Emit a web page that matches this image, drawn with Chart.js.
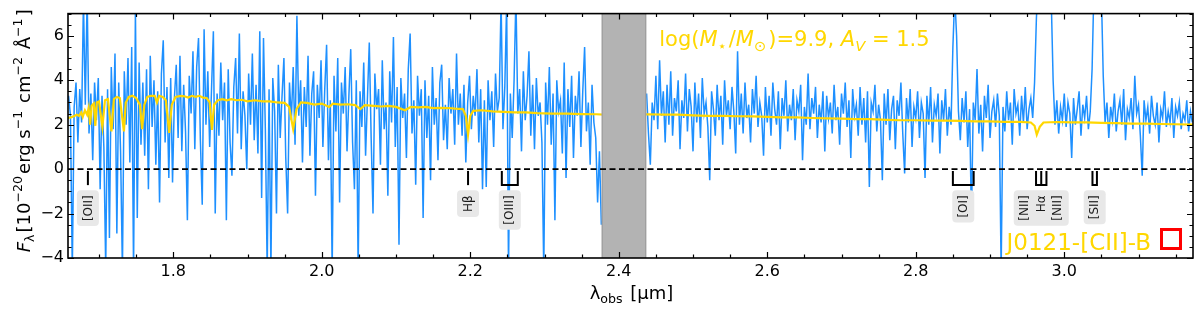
<!DOCTYPE html>
<html><head><meta charset="utf-8">
<script src="https://cdn.jsdelivr.net/npm/chart.js@4/dist/chart.umd.min.js"></script>
<style>html,body{margin:0;padding:0;background:#fff}#wrap{width:1200px;height:313px;position:relative}</style>
</head><body><div id="wrap"><canvas id="c" width="1200" height="313"></canvas></div>
<script>
// ---------------- data ----------------
const specStartA = 1.659;   // µm, first pixel of blue segment left of the masked band
const specStartB = 2.4375;  // µm, first pixel right of the masked band
const specStep = 0.0025;    // µm per spectral pixel
const specFluxA = [
3.3,2.4,-4.6,2.8,3.9,1.2,3.6,2.1,7.6,2.9,7.8,1.6,3.4,0.4,3.9,2.2,
4.1,-0.9,3.3,1.0,-4.5,3.6,-3.1,4.6,1.8,5.2,-2.9,3.9,0.8,-4.6,4.4,2.0,5.0,0.3,5.5,-4.6,7.2,-2.2,4.8,1.1,
3.9,0.6,4.5,-0.9,5.1,1.9,4.0,0.2,3.5,-1.5,4.3,5.8,1.2,3.7,-0.4,4.1,-0.6,3.2,4.7,1.4,
5.1,0.8,3.8,1.7,-2.3,4.2,2.5,5.3,0.9,4.6,5.9,1.3,-1.6,6.3,2.0,4.4,1.0,3.6,6.2,-2.0,
3.4,1.5,4.8,2.2,3.9,-2.3,4.5,1.2,-0.3,3.7,5.0,1.6,6.1,0.9,3.5,2.4,0.0,4.3,2.0,5.2,
1.3,3.8,0.7,6.2,-1.3,5.9,1.8,-4.6,3.6,-4.6,4.1,2.6,-2.0,4.7,1.4,3.3,5.0,0.5,-2.0,3.9,
2.2,4.6,1.1,6.9,2.4,4.0,0.3,3.7,1.9,5.1,0.6,3.4,4.4,-1.2,3.8,2.3,
4.9,1.0,3.6,5.6,0.4,3.1,-4.6,4.2,1.7,5.0,-1.5,3.9,2.5,4.6,0.8,3.3,5.4,1.2,-0.9,4.0,
-4.6,3.5,1.9,4.8,0.6,3.2,5.7,1.4,-2.0,4.3,2.7,3.6,0.2,4.9,1.8,3.0,-1.2,4.4,2.1,5.95,
1.0,3.7,-3.4,4.1,2.3,3.4,0.5,4.5,6.1,1.6,3.1,-0.7,4.2,2.4,3.6,-2.2,4.0,1.4,3.3,-0.5,
4.6,2.0,3.2,0.4,3.9,4.7,1.3,2.9,0.9,4.1,2.5,3.6,1.1,5.2,2.0,3.4,1.5,3.8,0.3,3.0,
4.2,1.8,3.3,2.4,4.5,1.2,3.6,-0.9,3.1,-0.8,4.0,2.2,3.5,1.0,4.3,2.6,3.2,7.6,1.8,3.7,
7.5,-4.6,3.4,1.4,4.0,7.8,2.5,3.6,0.8,4.4,2.2,3.3,5.3,1.5,3.8,0.9,4.1,2.4,3.0,1.2,
-4.6,3.9,2.0,4.6,1.1,3.4,-2.3,4.0,2.6,3.1,0.7,4.8,-0.4,3.6,1.9,4.2,0.5,3.3,2.4,4.4,
1.0,3.5,5.5,1.7,3.0,0.2,3.8,2.1,1.4,-1.5,0.8,-2.5
];
const specFluxB = [
3.4,1.6,0.2,3.0,2.2,4.2,1.8,4.9,2.4,3.5,1.2,3.8,2.0,4.4,1.5,3.2,2.6,4.0,0.9,3.1,
2.3,4.3,1.7,3.6,2.8,0.8,3.9,2.1,3.4,1.4,4.1,2.5,3.0,1.9,-0.5,3.5,2.7,1.5,3.8,2.2,
3.3,1.1,4.0,2.4,3.1,1.8,3.7,2.6,0.7,5.3,2.0,3.4,1.6,3.9,2.3,2.9,1.2,3.6,2.5,4.2,
1.9,3.0,2.4,0.6,3.7,2.1,3.3,1.5,3.9,2.7,2.0,3.5,0.9,3.2,2.4,4.0,1.7,2.9,2.2,3.6,
1.3,3.1,2.6,3.8,0.4,2.8,2.0,4.3,1.8,3.2,2.5,3.7,1.4,2.9,2.1,3.5,0.8,3.3,2.3,3.0,
1.6,3.8,2.2,2.8,1.1,3.4,2.5,3.9,1.9,3.1,0.5,3.6,2.4,2.9,1.5,3.7,2.0,3.2,1.2,3.5,
-0.8,3.0,2.6,3.8,1.7,2.9,2.2,-0.5,3.4,2.0,3.6,1.3,2.7,3.3,0.9,3.1,2.4,3.9,1.6,-0.2,
3.2,2.1,3.6,1.0,2.8,2.3,3.5,1.4,3.0,2.5,-0.4,3.3,2.0,3.7,1.2,2.9,2.4,3.4,0.7,3.1,
2.2,3.6,1.5,2.8,2.0,5.5,7.8,6.0,2.6,1.3,3.2,2.1,3.5,1.0,2.7,-2.3,3.0,2.2,4.5,1.6,
2.9,0.8,3.3,2.3,3.8,1.4,2.6,3.1,1.9,3.4,2.4,-4.6,2.8,1.7,3.5,2.2,3.0,1.1,3.6,2.5,
2.9,1.5,3.3,2.1,3.7,1.8,2.7,3.2,2.3,3.9,6.8,8.5,9.0,8.8,9.2,8.6,8.0,8.4,7.6,4.0,
2.0,3.1,1.6,2.8,2.2,3.4,1.9,3.0,2.5,0.5,3.2,2.0,2.7,3.5,1.5,2.9,2.3,3.3,1.8,2.6,
4.5,8.2,8.8,8.4,8.7,7.9,4.2,2.1,3.0,1.4,2.8,2.2,3.4,1.7,2.6,3.1,2.0,3.6,1.3,2.7,
2.3,3.2,1.8,4.2,2.5,2.9,1.5,-0.3,3.1,2.2,2.8,1.6,3.3,2.4,2.0,3.0,1.2,2.7,2.3,3.5,
1.9,2.6,2.1,3.2,1.4,2.8,2.4,3.0,1.8,2.5,2.2,3.1,1.7,2.6,2.1
];
const modelWave = [
1.658,1.662,1.666,1.670,1.673,1.676,1.678,1.681,1.684,1.686,1.688,1.690,1.693,1.695,1.697,1.700,
1.7045,1.708,1.712,1.7167,1.720,1.724,1.728,1.7335,1.736,1.740,1.745,1.750,1.755,1.758,1.761,1.765,
1.770,1.775,1.778,1.781,1.786,1.790,1.7945,1.798,1.803,1.810,1.815,1.820,1.825,1.830,1.835,1.840,
1.845,1.849,1.852,1.855,1.860,1.866,1.872,1.878,1.885,1.892,1.900,1.910,1.920,1.930,1.940,1.950,
1.956,1.9615,1.966,1.972,1.980,1.990,2.000,2.010,2.015,2.025,2.035,2.045,2.052,2.058,2.070,2.080,
2.090,2.100,2.112,2.120,2.130,2.140,2.150,2.160,2.170,2.180,2.190,2.194,2.197,2.200,2.204,2.215,
2.230,2.245,2.260,2.275,2.290,2.310,2.330,2.350,2.370,2.380,2.440,2.460,2.480,2.500,2.520,2.540,
2.560,2.580,2.600,2.620,2.640,2.660,2.680,2.700,2.720,2.740,2.760,2.780,2.800,2.820,2.840,2.860,
2.880,2.900,2.920,2.940,2.955,2.960,2.963,2.967,2.972,2.990,3.010,3.030,3.050,3.070,3.090,3.110,
3.130,3.150,3.174
];
const modelFlux = [
2.30,2.33,2.38,2.45,2.40,2.55,2.35,2.65,2.45,2.75,2.00,2.85,2.95,1.95,3.00,3.05,
1.90,3.10,3.15,1.70,3.15,3.25,3.20,1.70,3.00,3.25,3.30,3.20,2.90,1.80,2.90,3.25,
3.30,3.30,3.00,3.30,3.25,3.10,1.63,2.90,3.25,3.30,3.28,3.22,3.30,3.25,3.30,3.22,
3.20,3.00,1.76,2.90,3.10,3.15,3.10,3.15,3.10,3.12,3.05,3.10,3.05,3.05,3.00,2.98,
2.80,1.80,2.70,3.00,2.98,2.90,2.95,2.80,2.95,2.90,2.92,2.88,2.70,2.88,2.85,2.82,
2.85,2.80,2.65,2.80,2.78,2.80,2.75,2.76,2.75,2.72,2.70,2.40,1.55,2.40,2.62,2.65,
2.60,2.58,2.55,2.55,2.52,2.50,2.50,2.48,2.47,2.45,2.47,2.45,2.45,2.42,2.40,2.40,
2.38,2.37,2.35,2.33,2.33,2.30,2.28,2.27,2.25,2.25,2.22,2.20,2.20,2.18,2.18,2.17,
2.15,2.15,2.13,2.13,2.10,1.95,1.55,1.90,2.10,2.12,2.10,2.10,2.08,2.07,2.05,2.05,
2.03,2.02,2.00
];
const xTickValues = [1.8, 2.0, 2.2, 2.4, 2.6, 2.8, 3.0];
const yTickValues = [-4, -2, 0, 2, 4, 6];
const maskedBand = [2.377, 2.437];
const markerWaves = [[1.685], [2.197], [2.2425, 2.264], [2.850, 2.878], [2.962, 2.969, 2.976], [3.038, 3.044]];
const markerLabels = [['[OII]'], ['Hβ'], ['[OIII]'], ['[OI]'], ['[NII]', 'Hα', '[NII]'], ['[SII]']];
const modelText = [
  {t:'log(', s:'n'}, {t:'M', s:'i'}, {t:'⋆', s:'sub'}, {t:'/', s:'n'}, {t:'M', s:'i'}, {t:'⊙', s:'sub'},
  {t:')=9.9, ', s:'n'}, {t:'A', s:'i'}, {t:'V', s:'isub'}, {t:' = 1.5', s:'n'}
];
const objectName = 'J0121-[CII]-B';
const yTitle = [
  {t:'F', s:'i'}, {t:'λ', s:'sub'}, {t:'[10', s:'n'}, {t:'−20', s:'sup'}, {t:'erg s', s:'n'}, {t:'−1', s:'sup'},
  {t:' cm', s:'n'}, {t:'−2', s:'sup'}, {t:' Å', s:'n'}, {t:'−1', s:'sup'}, {t:']', s:'n'}
];
const xTitle = [{t:'λ', s:'n'}, {t:'obs', s:'sub'}, {t:' [µm]', s:'n'}];

// ---------------- build ----------------
const FONT = "'DejaVu Sans', sans-serif";
const ptsA = specFluxA.map((v, i) => ({x: specStartA + i * specStep, y: v}));
const ptsB = specFluxB.map((v, i) => ({x: specStartB + i * specStep, y: v}));
const ptsM = modelWave.map((w, i) => ({x: w, y: modelFlux[i]}));

function runFont(s, size) {
  const small = (s === 'sub' || s === 'sup' || s === 'isub');
  const it = (s === 'i' || s === 'isub');
  return (it ? 'italic ' : '') + (small ? size * 0.7 : size) + 'px ' + FONT;
}
function richWidth(ctx, runs, size) {
  let w = 0;
  for (const r of runs) { ctx.font = runFont(r.s, size); w += ctx.measureText(r.t).width; }
  return w;
}
function drawRich(ctx, runs, x, y, size, color, align) {
  const w = richWidth(ctx, runs, size);
  let cx = align === 'center' ? x - w / 2 : (align === 'right' ? x - w : x);
  ctx.fillStyle = color; ctx.textBaseline = 'alphabetic'; ctx.textAlign = 'left';
  for (const r of runs) {
    ctx.font = runFont(r.s, size);
    let dy = 0;
    if (r.s === 'sub' || r.s === 'isub') dy = size * 0.22;
    if (r.s === 'sup') dy = -size * 0.42;
    ctx.fillText(r.t, cx, y + dy);
    cx += ctx.measureText(r.t).width + (r.s === 'sub' || r.s === 'sup' ? 2 : 0);
  }
}

const overlay = {
  id: 'overlay',
  afterDatasetsDraw(chart) {
    const ctx = chart.ctx, xs = chart.scales.x, ys = chart.scales.y, a = chart.chartArea;
    ctx.save();
    // masked band
    const b0 = xs.getPixelForValue(maskedBand[0]), b1 = xs.getPixelForValue(maskedBand[1]);
    ctx.fillStyle = '#b3b3b3';
    ctx.fillRect(b0, a.top, b1 - b0, a.bottom - a.top);
    ctx.strokeStyle = '#9a9a9a'; ctx.lineWidth = 1;
    ctx.beginPath(); ctx.moveTo(b0 + 0.5, a.top); ctx.lineTo(b0 + 0.5, a.bottom);
    ctx.moveTo(b1 - 0.5, a.top); ctx.lineTo(b1 - 0.5, a.bottom); ctx.stroke();
    // zero line
    const y0 = ys.getPixelForValue(0);
    ctx.strokeStyle = '#000'; ctx.lineWidth = 1.6; ctx.setLineDash([6, 3.5]);
    ctx.beginPath(); ctx.moveTo(a.left, y0); ctx.lineTo(a.right, y0); ctx.stroke();
    ctx.setLineDash([]);
    // line markers + labels
    const yT = ys.getPixelForValue(-0.08), yB = ys.getPixelForValue(-0.72), boxTop = ys.getPixelForValue(-0.95);
    markerWaves.forEach((waves, k) => {
      const px = waves.map(w => xs.getPixelForValue(w));
      ctx.strokeStyle = '#000'; ctx.lineWidth = 2;
      ctx.beginPath();
      px.forEach(p => { ctx.moveTo(p, yT); ctx.lineTo(p, yB); });
      if (px.length > 1) { ctx.moveTo(px[0] - 1, yB); ctx.lineTo(px[px.length - 1] + 1, yB); }
      ctx.stroke();
      const labels = markerLabels[k];
      const cx = (px[0] + px[px.length - 1]) / 2;
      ctx.font = '12px ' + FONT;
      const maxW = Math.max(...labels.map(l => ctx.measureText(l).width));
      const colSp = 16.5;
      const bw = 22 + (labels.length - 1) * colSp, bh = maxW + 10;
      ctx.fillStyle = '#e8e8e8';
      ctx.beginPath();
      if (ctx.roundRect) ctx.roundRect(cx - bw / 2, boxTop, bw, bh, 4); else ctx.rect(cx - bw / 2, boxTop, bw, bh);
      ctx.fill();
      labels.forEach((l, j) => {
        const lx = cx + (j - (labels.length - 1) / 2) * colSp;
        ctx.save();
        ctx.translate(lx, boxTop + 5);
        ctx.rotate(-Math.PI / 2);
        ctx.fillStyle = '#1a1a1a'; ctx.textAlign = 'right'; ctx.textBaseline = 'middle';
        ctx.font = '12px ' + FONT;
        ctx.fillText(l, 0, 0.5);
        ctx.restore();
      });
    });
    // frame
    ctx.strokeStyle = '#000'; ctx.lineWidth = 1.6;
    ctx.strokeRect(a.left, a.top, a.right - a.left, a.bottom - a.top);
    // ticks (inward, all sides)
    ctx.lineWidth = 1.2;
    ctx.beginPath();
    for (let v = 1.65; v <= 3.2; v += 0.05) {
      const vv = Math.round(v * 100) / 100;
      if (vv < xs.min || vv > xs.max) continue;
      const p = Math.round(xs.getPixelForValue(vv)) + 0.5;
      const major = Math.abs(vv * 5 - Math.round(vv * 5)) < 1e-6;
      const L = major ? 6 : 3.5;
      ctx.moveTo(p, a.bottom); ctx.lineTo(p, a.bottom - L);
      ctx.moveTo(p, a.top); ctx.lineTo(p, a.top + L);
    }
    for (let v = -4; v <= 7; v += 0.5) {
      const p = Math.round(ys.getPixelForValue(v)) + 0.5;
      const major = Math.abs(v / 2 - Math.round(v / 2)) < 1e-6;
      const L = major ? 6 : 3.5;
      ctx.moveTo(a.left, p); ctx.lineTo(a.left + L, p);
      ctx.moveTo(a.right, p); ctx.lineTo(a.right - L, p);
    }
    ctx.stroke();
    // texts
    drawRich(ctx, modelText, xs.getPixelForValue(2.4545), ys.getPixelForValue(5.52), 21, '#FFD700', 'left');
    ctx.font = '23px ' + FONT; ctx.fillStyle = '#FFD700'; ctx.textAlign = 'right'; ctx.textBaseline = 'alphabetic';
    ctx.fillText(objectName, 1151, 250);
    ctx.strokeStyle = '#ff0000'; ctx.lineWidth = 3;
    ctx.strokeRect(1161.5, 229.5, 19, 19);
    // axis titles
    drawRich(ctx, xTitle, (a.left + a.right) / 2, 299, 18, '#000', 'center');
    ctx.save();
    ctx.translate(30, (a.top + a.bottom) / 2);
    ctx.rotate(-Math.PI / 2);
    drawRich(ctx, yTitle, 0, 0, 18, '#000', 'center');
    ctx.restore();
    ctx.restore();
  }
};

const lineDs = (data, color, width, order) => ({
  data, showLine: true, borderColor: color, backgroundColor: color, borderWidth: width, order,
  pointRadius: 0, pointHoverRadius: 0, tension: 0, fill: false
});

new Chart(document.getElementById('c'), {
  type: 'scatter',
  data: { datasets: [
    lineDs(ptsM, '#FFD700', 2.2, 0),
    lineDs(ptsA, '#1E90FF', 1.5, 1),
    lineDs(ptsB, '#1E90FF', 1.5, 1)
  ]},
  options: {
    responsive: false, animation: false, devicePixelRatio: 1,
    layout: { padding: { top: 5, right: 7, left: 0, bottom: 0 } },
    plugins: { legend: { display: false }, tooltip: { enabled: false } },
    scales: {
      x: {
        type: 'linear', min: 1.6582, max: 3.1734,
        grid: { display: false, drawTicks: false }, border: { display: false },
        afterBuildTicks: s => { s.ticks = xTickValues.map(v => ({ value: v })); },
        afterFit: s => { s.height = 55; },
        ticks: { font: { family: 'DejaVu Sans', size: 16 }, color: '#000', padding: 4, maxRotation: 0,
          callback: v => Number(v).toFixed(1) }
      },
      y: {
        type: 'linear', min: -4, max: 7,
        grid: { display: false, drawTicks: false }, border: { display: false },
        afterBuildTicks: s => { s.ticks = yTickValues.map(v => ({ value: v })); },
        afterFit: s => { s.width = 68; },
        ticks: { font: { family: 'DejaVu Sans', size: 16 }, color: '#000', padding: 4,
          callback: v => (v < 0 ? '−' + Math.abs(v) : String(v)) }
      }
    }
  },
  plugins: [overlay]
});
</script>
</body></html>
